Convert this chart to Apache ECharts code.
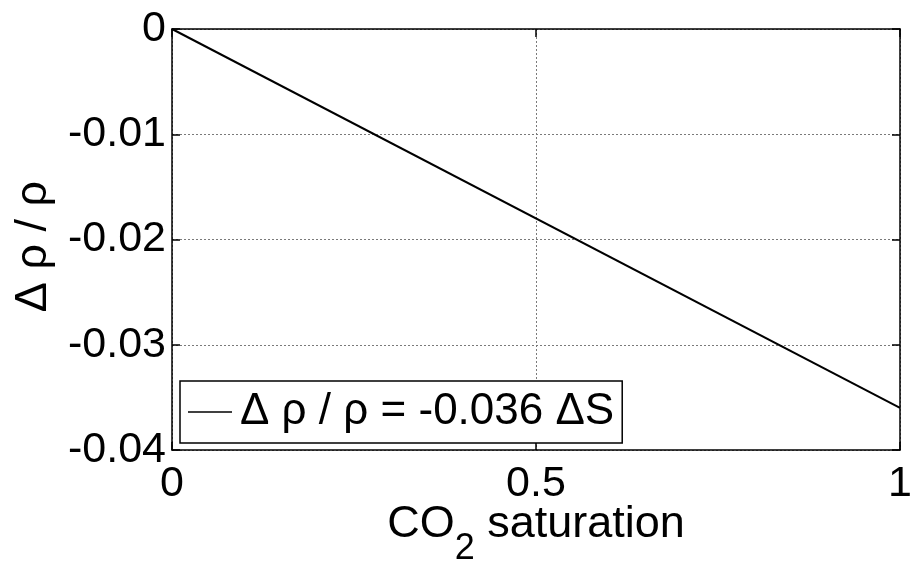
<!DOCTYPE html>
<html>
<head>
<meta charset="utf-8">
<script src="https://cdn.jsdelivr.net/npm/echarts@6/dist/echarts.min.js"></script>
<style>
  html, body { margin: 0; padding: 0; background: #fff; }
  #chart { width: 912px; height: 561px; }
</style>
</head>
<body>
<div id="chart"></div>
<script>
// Linear density change with CO2 saturation
const saturation = [0, 1];
const densityChange = [0, -0.036];
const seriesName = 'Δ ρ / ρ = -0.036 ΔS';
const xTickLabels = { '0': '0', '0.5': '0.5', '1': '1' };
const yTickLabels = ['0', '-0.01', '-0.02', '-0.03', '-0.04'];

const FONT = '"Liberation Sans", Arial, sans-serif';
const FS = 43;
const chart = echarts.init(document.getElementById('chart'), null, { renderer: 'canvas' });

const gridLine = { show: true, lineStyle: { color: '#7a7a7a', width: 1, type: [2, 2] } };
const frameLine = { show: true, onZero: false, lineStyle: { color: '#000', width: 1.5 } };

function yLabel(v) {
  const idx = Math.round(-v / 0.01);
  return yTickLabels[idx] !== undefined ? yTickLabels[idx] : '';
}
function xLabel(v) {
  const key = String(Math.round(v * 10) / 10);
  return xTickLabels[key] !== undefined ? xTickLabels[key] : '';
}

chart.setOption({
  animation: false,
  backgroundColor: '#fff',
  textStyle: { fontFamily: FONT },
  grid: { left: 172, right: 12, top: 29, bottom: 111, containLabel: false, outerBoundsMode: 'none' },
  legend: {
    left: 180, top: 381,
    orient: 'vertical',
    backgroundColor: '#fff',
    borderColor: '#000', borderWidth: 1.5, borderRadius: 0,
    padding: [9, 8, 9, 8],
    itemWidth: 44, itemHeight: 14, itemGap: 0,
    icon: 'path://M0,0H44V1.6H0Z',
    textStyle: { fontFamily: FONT, fontSize: 44, color: '#000', padding: [0, 0, 0, 3] },
    data: [{ name: seriesName, itemStyle: { color: '#000' } }]
  },
  xAxis: [{
    type: 'value', min: 0, max: 1, interval: 0.5, position: 'bottom',
    axisLine: frameLine,
    axisTick: { show: true, inside: true, length: 8, lineStyle: { color: '#000', width: 1.5 } },
    splitLine: gridLine,
    axisLabel: { fontFamily: FONT, fontSize: FS, color: '#000', margin: 13, formatter: xLabel },
    name: '{a|CO}{s|2}{a| saturation}',
    nameLocation: 'middle', nameGap: 52, nameMoveOverlap: false,
    nameTextStyle: {
      fontFamily: FONT, color: '#000',
      rich: {
        a: { fontFamily: FONT, fontSize: 45, color: '#000', lineHeight: 50, verticalAlign: 'top' },
        s: { fontFamily: FONT, fontSize: 36, color: '#000', lineHeight: 50, padding: [29, 0, 0, 0], verticalAlign: 'top' }
      }
    }
  }, {
    type: 'value', min: 0, max: 1, interval: 0.5, position: 'top',
    axisLine: frameLine,
    axisTick: { show: true, inside: true, length: 8, lineStyle: { color: '#000', width: 1.5 } },
    splitLine: { show: false }, axisLabel: { show: false }
  }],
  yAxis: [{
    type: 'value', min: -0.04, max: 0, interval: 0.01, position: 'left',
    axisLine: frameLine,
    axisTick: { show: true, inside: true, length: 8, lineStyle: { color: '#000', width: 1.5 } },
    splitLine: gridLine,
    axisLabel: { fontFamily: FONT, fontSize: FS, color: '#000', margin: 6, formatter: yLabel },
    name: 'Δ ρ / ρ',
    nameLocation: 'middle', nameGap: 116, nameRotate: 90, nameMoveOverlap: false,
    nameTextStyle: { fontFamily: FONT, fontSize: 45, color: '#000', padding: [0, 14, 0, 0] }
  }, {
    type: 'value', min: -0.04, max: 0, interval: 0.01, position: 'right',
    axisLine: frameLine,
    axisTick: { show: true, inside: true, length: 8, lineStyle: { color: '#000', width: 1.5 } },
    splitLine: { show: false }, axisLabel: { show: false }
  }],
  series: [{
    name: seriesName,
    type: 'line',
    xAxisIndex: 0, yAxisIndex: 0,
    data: saturation.map((s, i) => [s, densityChange[i]]),
    showSymbol: false, symbol: 'none',
    lineStyle: { color: '#000', width: 2 },
    itemStyle: { color: '#000' },
    z: 3
  }]
});
</script>
</body>
</html>
